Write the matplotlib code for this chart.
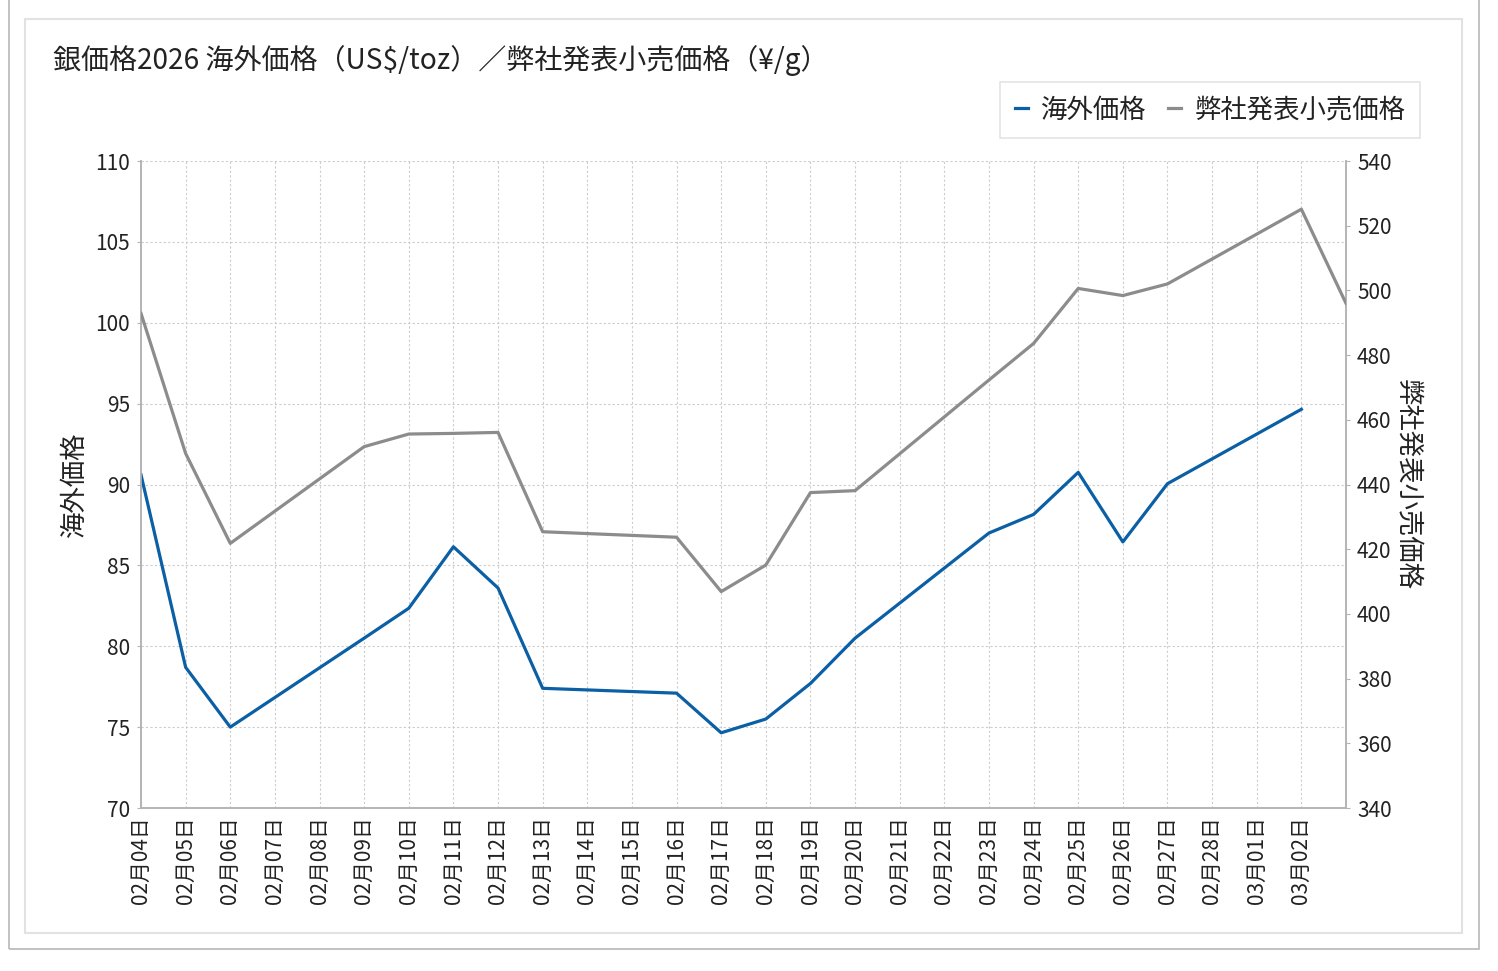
import matplotlib
matplotlib.use('Agg')
import matplotlib.pyplot as plt
from matplotlib.patches import Rectangle

plt.rcParams['font.family'] = ['Noto Sans CJK JP', 'DejaVu Sans']

# data (None = no price that day, line just joins across)
dates = ['02月04日', '02月05日', '02月06日', '02月07日', '02月08日', '02月09日',
         '02月10日', '02月11日', '02月12日', '02月13日', '02月14日', '02月15日',
         '02月16日', '02月17日', '02月18日', '02月19日', '02月20日', '02月21日',
         '02月22日', '02月23日', '02月24日', '02月25日', '02月26日', '02月27日',
         '02月28日', '03月01日', '03月02日', '03月03日']
n_labels = 27  # last date has no tick label on the original

overseas = [90.6, 78.7, 75.0, None, None, 80.5, 82.35, 86.15, 83.6, 77.4,
            None, None, 77.1, 74.65, 75.5, 77.7, 80.5, None, None, 87.0,
            88.15, 90.75, 86.45, 90.05, None, None, 94.65, None]
retail = [492.9, 449.6, 421.8, None, None, 451.7, 455.6, 455.8, 456.1, 425.4,
          None, None, 423.7, 406.9, 415.1, 437.5, 438.1, None, None, 472.3,
          483.6, 500.6, 498.4, 502.0, None, None, 525.1, 496.0]

blue = '#0b5fa5'
grey = '#8c8c8c'
spine_c = '#b4b4b4'
grid_c = '#cccccc'
text_c = '#222222'

W, H = 1498, 971
fig = plt.figure(figsize=(W / 100, H / 100), dpi=100)

# frames around the chart
fig.patches.append(Rectangle((9 / W, 1 - 949 / H), 1470 / W, 960 / H,
                             transform=fig.transFigure, fill=False,
                             edgecolor='#b8b8b8', lw=1.2))
fig.patches.append(Rectangle((25 / W, 1 - 933 / H), 1437 / W, 914 / H,
                             transform=fig.transFigure, fill=False,
                             edgecolor='#e2e2e2', lw=1.5))

ax = fig.add_axes([141 / W, 1 - 808 / H, 1205 / W, 647 / H])
ax2 = ax.twinx()

def pts(vals):
    xs = [i for i, v in enumerate(vals) if v is not None]
    ys = [v for v in vals if v is not None]
    return xs, ys

x1, y1 = pts(overseas)
x2, y2 = pts(retail)
l1, = ax.plot(x1, y1, color=blue, lw=2.3, label='海外価格', zorder=3)
l2, = ax2.plot(x2, y2, color=grey, lw=2.3, label='弊社発表小売価格', zorder=3)

ax.set_xlim(0, len(dates) - 1)
ax.set_ylim(70, 110)
ax.set_yticks(range(70, 111, 5))
ax2.set_ylim(340, 540)
ax2.set_yticks(range(340, 541, 20))

ax.set_xticks(range(len(dates)))
ax.set_xticklabels(dates[:n_labels] + [''] * (len(dates) - n_labels),
                   rotation=90, fontsize=15, color=text_c)
ax.tick_params(axis='x', length=0, pad=6)
ax.tick_params(axis='y', length=3, color=spine_c, pad=5, labelsize=15, labelcolor=text_c)
ax2.tick_params(axis='y', length=3, color=spine_c, pad=5, labelsize=15, labelcolor=text_c)

ax.grid(True, color=grid_c, linestyle=(0, (2, 2)), lw=0.8)
ax.set_axisbelow(True)

for a in (ax, ax2):
    a.spines['top'].set_visible(False)
    for s in ('left', 'right', 'bottom'):
        a.spines[s].set_color(spine_c)
        a.spines[s].set_linewidth(1.2)

ax.set_ylabel('海外価格', fontsize=19, color=text_c, labelpad=5)
ax2.set_ylabel('弊社発表小売価格', fontsize=19, color=text_c, rotation=270,
               labelpad=21)

fig.text(53 / W, 1 - 60 / H, '銀価格2026 海外価格（US$/toz）／弊社発表小売価格（¥/g）',
         fontsize=20.2, color=text_c, ha='left', va='center')

leg = fig.legend(handles=[l1, l2], loc='center',
                 bbox_to_anchor=(1210 / W, 1 - 110 / H), ncol=2,
                 fontsize=19, frameon=True, fancybox=False,
                 handlelength=0.5, handletextpad=0.5, columnspacing=0.8,
                 borderpad=0.55)
leg.get_frame().set_edgecolor('#dddddd')
leg.get_frame().set_linewidth(1.2)
for t in leg.get_texts():
    t.set_color(text_c)

fig.savefig('out.png', dpi=100)
